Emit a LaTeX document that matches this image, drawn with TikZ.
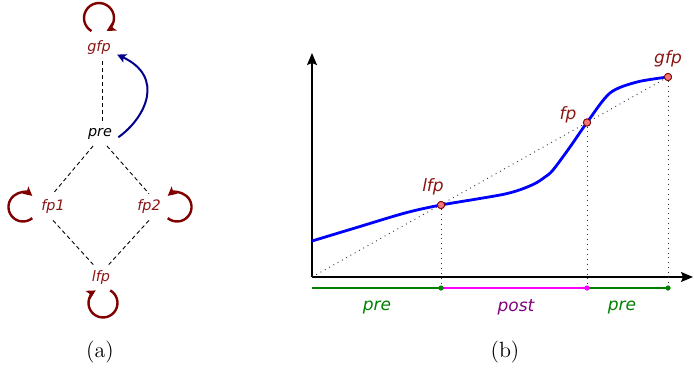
\documentclass[tikz,border=0pt]{standalone}
\usepackage{fontspec}
\newfontfamily\dv{DejaVu Sans}
\usetikzlibrary{arrows.meta,calc}
\definecolor{loopred}{RGB}{128,0,0}
\definecolor{lblred}{RGB}{140,20,20}
\definecolor{navyb}{RGB}{0,0,139}
\definecolor{ptfill}{RGB}{240,120,120}
\definecolor{pregreen}{RGB}{0,128,0}
\definecolor{postpurple}{RGB}{128,0,128}
\definecolor{magline}{RGB}{255,0,255}
\tikzset{
  fpa/.style={font=\dv\itshape\fontsize{7.2}{8.5}\selectfont, text=lblred, inner sep=3pt},
  prea/.style={font=\dv\itshape\fontsize{7.2}{8.5}\selectfont, text=black, inner sep=3pt},
  fpb/.style={font=\dv\itshape\fontsize{8.5}{10}\selectfont, text=lblred, inner sep=1pt},
  lblb/.style={font=\dv\itshape\fontsize{8.5}{10}\selectfont, inner sep=1pt},
  capt/.style={font=\fontsize{11}{13}\selectfont, inner sep=0pt},
  dashln/.style={line width=0.45pt, dash pattern=on 2pt off 1.5pt},
  loopst/.style={draw=loopred, line width=1.2pt, -{Stealth[length=4.5pt,width=4.6pt,inset=1pt]}},
  bluearr/.style={draw=navyb, line width=1pt, -{Stealth[length=4.5pt,width=4.5pt,inset=1pt]}},
  axisln/.style={line width=0.7pt, -{Stealth[length=6pt,width=5pt,inset=1pt]}},
  diagln/.style={line width=0.45pt, dotted, draw=black!80},
  vdot/.style={line width=0.45pt, dotted, draw=black!80},
  ptnode/.style={circle, fill=ptfill, draw=loopred, line width=0.4pt, inner sep=0pt, minimum size=3.6pt},
  dotnode/.style={circle, inner sep=0pt, minimum size=2.6pt},
  baseln/.style={line width=0.6pt},
}
\begin{document}
\begin{tikzpicture}[x=0.5pt,y=0.5pt]
\useasboundingbox (0,0) rectangle (694,372);
% ---------- (a) ----------
\node[fpa] (gfp) at (99,324) {gfp};
\node[prea] (pre) at (100,238) {pre};
\node[fpa] (fp1) at (53,165) {fp1};
\node[fpa] (fp2) at (149,165) {fp2};
\node[fpa] (lfp) at (101,94) {lfp};
\draw[dashln] ([xshift=1.5pt]gfp.south) -- ([xshift=1pt]pre.north);
\draw[dashln] (pre.-120) -- (fp1.north);
\draw[dashln] (pre.-60) -- (fp2.north);
\draw[dashln] (fp1.south) -- (lfp.120);
\draw[dashln] (fp2.south) -- (lfp.60);
\draw[bluearr] (pre.-10) .. controls ($(pre.-10)+(27.5,19.6)$) and ($(gfp.-20)+(48,-22.4)$) .. (gfp.-20);
\draw[loopst] ($(gfp)+(-7.5,17)$) arc[start angle=240,end angle=-60,radius=7.5pt];
\draw[loopst] ($(fp1)+(-20.7,-11.1)$) arc[start angle=-50,end angle=-310,radius=7.25pt];
\draw[loopst] ($(fp2)+(18.7,-11.1)$) arc[start angle=230,end angle=490,radius=7.25pt];
\draw[loopst] ($(lfp)+(9.25,-12.4)$) arc[start angle=60,end angle=-240,radius=7.25pt];
\node[capt] (capa) at (100,20) {(a)};
% ---------- (b) ----------
\coordinate (O) at (312,95);
\coordinate (ytop) at (312,319);
\coordinate (xend) at (693,95);
\coordinate (b0) at (312,84);
\draw[axisln] (O) -- (ytop);
\draw[axisln] (O) -- (xend);
\node[ptnode] (gfpP) at (668,295) {};
\node[ptnode] (fpP) at (587,249.5) {};
\node[ptnode] (lfpP) at (441,167) {};
\draw[diagln] (O) -- (gfpP);
\node[dotnode] (dL) at (441,84) {};
\node[dotnode] (dF) at (587,84) {};
\node[dotnode] (dG) at (668,84) {};
\draw[vdot] (lfpP) -- (dL);
\draw[vdot] (fpP) -- (dF);
\draw[vdot] (gfpP) -- (dG);
\draw[baseln, pregreen] (b0) -- (dL.center);
\draw[baseln, magline] (dL.center) -- (dF.center);
\draw[baseln, pregreen] (dF.center) -- (dG.center);
\fill[pregreen] (dL) circle[radius=1.3pt];
\fill[magline] (dF) circle[radius=1.3pt];
\fill[pregreen] (dG) circle[radius=1.3pt];
\draw[blue, line width=1.4pt] plot[smooth, tension=0.5] coordinates {(312,131) (355,144) (405,159) (441,167) (505,178) (532,187) (545,195) (553,202) (570,225) (587,249.5) (610,279) (637,290) (668,295)};
\node[ptnode] at (gfpP) {};
\node[ptnode] at (fpP) {};
\node[ptnode] at (lfpP) {};
\node[fpb] (lfpL) at (433,185) {lfp};
\node[fpb] (fpL) at (568,257) {fp};
\node[fpb] (gfpL) at (668,313) {gfp};
\node[lblb, text=pregreen] (preL) at (377,65) {pre};
\node[lblb, text=postpurple] (postL) at (516,65) {post};
\node[lblb, text=pregreen] (preR) at (622,65) {pre};
\node[capt] (capb) at (505,20) {(b)};
\end{tikzpicture}
\end{document}
